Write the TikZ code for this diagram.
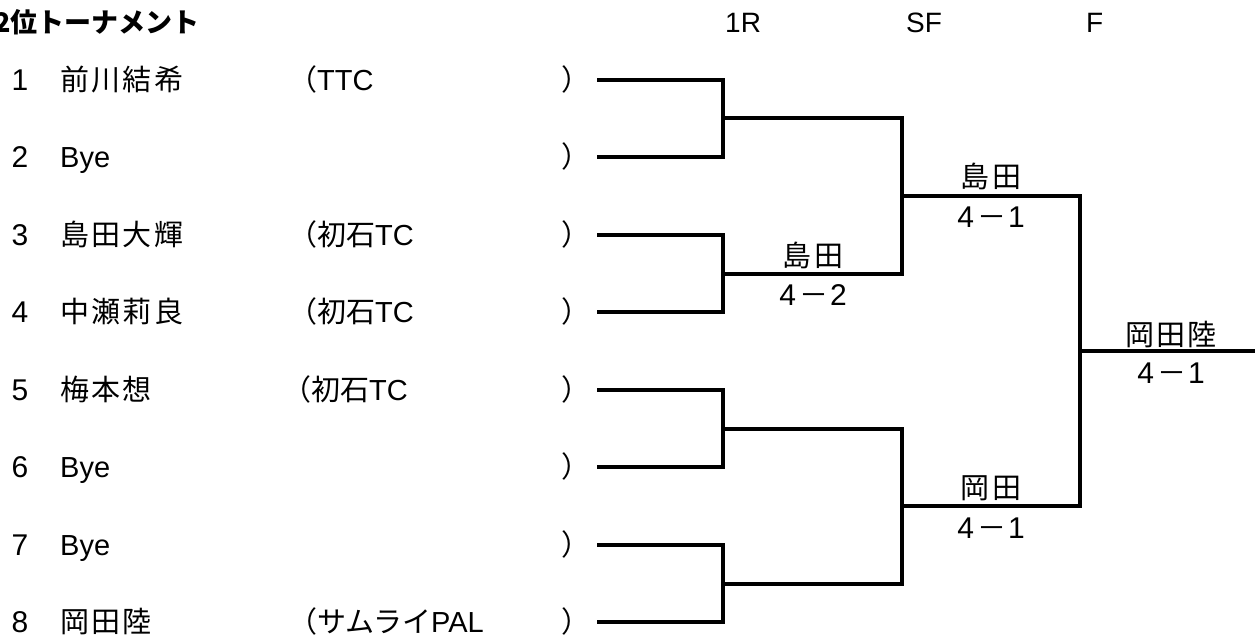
\documentclass[tikz,border=0pt]{standalone}
\usepackage{fontspec}
\setmainfont{Noto Sans CJK JP}
\newfontfamily\jp[LetterSpace=8]{Noto Sans CJK JP}
\newfontfamily\lat{Liberation Sans}
\begin{document}
\begin{tikzpicture}[x=1pt,y=-1pt,
  br/.style={line width=4pt},
  txt/.style={inner sep=0pt,anchor=base west,font=\fontsize{29}{29}\selectfont},
  num/.style={inner sep=0pt,anchor=base,font=\lat\fontsize{30}{30}\selectfont},
  hdr/.style={inner sep=0pt,anchor=base west,font=\lat\fontsize{28}{28}\selectfont},
  lbl/.style={inner sep=0pt,anchor=base,font=\jp\fontsize{29}{29}\selectfont},
  scr/.style={inner sep=0pt,anchor=base,font=\fontsize{29}{29}\selectfont}]
\useasboundingbox (0,0) rectangle (1255,639);
% title and headers
\node[inner sep=0pt,anchor=base west,font=\bfseries\fontsize{27}{27}\selectfont] (title) at (-6,33) {2位トーナメント};
\node[hdr] (h1) at (725,33) {1R};
\node[hdr] (h2) at (906,33) {SF};
\node[hdr] (h3) at (1086,33) {F};
% entries
\foreach \i/\y/\nm/\club/\cx in {
  1/80/{\jp 前川結希}/{（\lat TTC}/288,
  2/157/{\lat Bye}/{}/288,
  3/235/{\jp 島田大輝}/{（初石\lat TC}/288,
  4/312/{\jp 中瀬莉良}/{（初石\lat TC}/288,
  5/390/{\jp 梅本想}/{（初石\lat TC}/282,
  6/467/{\lat Bye}/{}/288,
  7/545/{\lat Bye}/{}/288,
  8/622/{\jp 岡田陸}/{（サムライ\lat PAL}/288}{
  \node[num] (n\i) at (20,\y+10.5) {\i};
  \node[txt] (nm\i) at (60,\y+10.5) {\nm};
  \node[txt] (c\i) at (\cx,\y+10.5) {\club};
  \node[txt] (cp\i) at (561,\y+10.5) {）};
  \coordinate (p\i) at (597,\y);
}
% bracket joints
\coordinate (r1) at (723,118.5);
\coordinate (r2) at (723,273.5);
\coordinate (r3) at (723,428.5);
\coordinate (r4) at (723,583.5);
\coordinate (s1) at (902,196);
\coordinate (s2) at (902,506);
\coordinate (fj) at (1080,351);
\coordinate (fend) at (1262,351);
\draw[br] (p1) -| (r1) |- (p2);
\draw[br] (p3) -| (r2) |- (p4);
\draw[br] (p5) -| (r3) |- (p6);
\draw[br] (p7) -| (r4) |- (p8);
\draw[br] (r1) -| (s1) |- (r2);
\draw[br] (r3) -| (s2) |- (r4);
\draw[br] (s1) -| (fj) |- (s2);
\draw[br] (fj) -- (fend);
% results
\node[lbl] (w1) at (813,266) {島田};
\node[scr] (sc1) at (813,305) {{\lat\fontsize{30}{30}\selectfont 4}\hspace{3pt}－\hspace{2pt}{\lat\fontsize{30}{30}\selectfont 2}};
\node[lbl] (w2) at (991,188) {島田};
\node[scr] (sc2) at (991,227) {{\lat\fontsize{30}{30}\selectfont 4}\hspace{3pt}－\hspace{2pt}{\lat\fontsize{30}{30}\selectfont 1}};
\node[lbl] (w3) at (991,498) {岡田};
\node[scr] (sc3) at (991,538) {{\lat\fontsize{30}{30}\selectfont 4}\hspace{3pt}－\hspace{2pt}{\lat\fontsize{30}{30}\selectfont 1}};
\node[lbl] (w4) at (1171,345) {岡田陸};
\node[scr] (sc4) at (1171,383) {{\lat\fontsize{30}{30}\selectfont 4}\hspace{3pt}－\hspace{2pt}{\lat\fontsize{30}{30}\selectfont 1}};
\end{tikzpicture}
\end{document}
